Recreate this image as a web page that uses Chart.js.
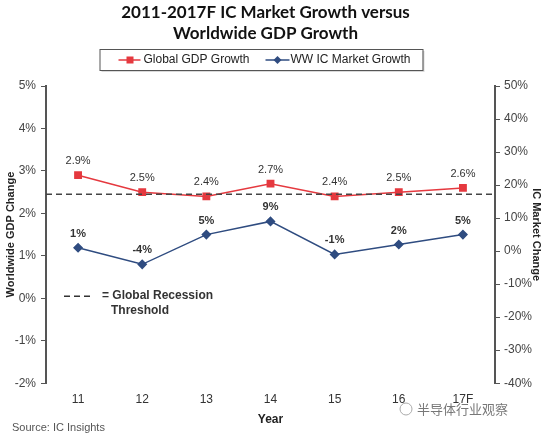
<!DOCTYPE html>
<html>
<head>
<meta charset="utf-8">
<script src="https://cdn.jsdelivr.net/npm/chart.js@4"></script>
<style>
  html, body { margin: 0; padding: 0; background: #fff; }
  #wrap { width: 547px; height: 436px; position: relative; }
</style>
</head>
<body>
<div id="wrap"><canvas id="icChart" width="547" height="436"></canvas></div>
<script>
const years = ['11', '12', '13', '14', '15', '16', '17F'];
const gdpGrowth = [2.9, 2.5, 2.4, 2.7, 2.4, 2.5, 2.6];
const icGrowth = [1, -4, 5, 9, -1, 2, 5];
const recessionThreshold = 2.45;

const RED = '#e5393f';
const BLUE = '#2f4c80';
const AXIS = '#555';

// title, labels above points, dashed threshold, legend box and notes
const extras = {
  id: 'extras',
  afterDatasetsDraw(chart) {
    const { ctx, chartArea, scales } = chart;
    ctx.save();
    const cx = chart.width / 2 - 12;

    // title
    ctx.textAlign = 'center';
    ctx.textBaseline = 'middle';
    ctx.fillStyle = '#111';
    ctx.font = 'bold 17px Lato, "Open Sans", sans-serif';
    ctx.fillText('2011-2017F IC Market Growth versus', cx + 4, 13);
    ctx.fillText('Worldwide GDP Growth', cx + 4, 34);

    // threshold line
    const ty = scales.y.getPixelForValue(recessionThreshold);
    ctx.strokeStyle = '#444';
    ctx.lineWidth = 1.5;
    ctx.setLineDash([6, 4]);
    ctx.beginPath();
    ctx.moveTo(chartArea.left, ty);
    ctx.lineTo(chartArea.right, ty);
    ctx.stroke();
    ctx.setLineDash([]);

    // value labels
    ctx.fillStyle = '#333';
    ctx.font = '11px "Liberation Sans", Arial, sans-serif';
    chart.getDatasetMeta(0).data.forEach((pt, i) => {
      ctx.fillText(gdpGrowth[i].toFixed(1) + '%', pt.x, pt.y - 14);
    });
    ctx.font = 'bold 11px "Liberation Sans", Arial, sans-serif';
    chart.getDatasetMeta(1).data.forEach((pt, i) => {
      ctx.fillText(icGrowth[i] + '%', pt.x, pt.y - 14);
    });

    // threshold note inside the plot
    const ny = scales.y.getPixelForValue(0.05);
    const nx = chartArea.left + 18;
    ctx.strokeStyle = '#333';
    ctx.setLineDash([6, 4]);
    ctx.beginPath();
    ctx.moveTo(nx, ny);
    ctx.lineTo(nx + 28, ny);
    ctx.stroke();
    ctx.setLineDash([]);
    ctx.textAlign = 'left';
    ctx.font = 'bold 12px "Liberation Sans", Arial, sans-serif';
    ctx.fillText('= Global Recession', nx + 38, ny);
    ctx.fillText('Threshold', nx + 47, ny + 15);

    // legend box
    const bx = cx - 162, by = 49, bw = 323, bh = 21;
    ctx.fillStyle = 'rgba(0,0,0,0.15)';
    ctx.fillRect(bx + 2, by + 2, bw, bh);
    ctx.fillStyle = '#fff';
    ctx.fillRect(bx, by, bw, bh);
    ctx.strokeStyle = AXIS;
    ctx.lineWidth = 1;
    ctx.strokeRect(bx + 0.5, by + 0.5, bw, bh);
    const ly = by + bh / 2 + 0.5;
    ctx.lineWidth = 1.5;
    ctx.strokeStyle = RED;
    ctx.beginPath(); ctx.moveTo(bx + 19, ly); ctx.lineTo(bx + 41, ly); ctx.stroke();
    ctx.fillStyle = RED;
    ctx.fillRect(bx + 27, ly - 3.5, 7, 7);
    ctx.strokeStyle = BLUE;
    ctx.beginPath(); ctx.moveTo(bx + 166, ly); ctx.lineTo(bx + 190, ly); ctx.stroke();
    ctx.fillStyle = BLUE;
    ctx.beginPath();
    ctx.moveTo(bx + 178, ly - 4); ctx.lineTo(bx + 182, ly);
    ctx.lineTo(bx + 178, ly + 4); ctx.lineTo(bx + 174, ly);
    ctx.closePath(); ctx.fill();
    ctx.fillStyle = '#222';
    ctx.font = '12px "Liberation Sans", Arial, sans-serif';
    ctx.fillText('Global GDP Growth', bx + 44, ly);
    ctx.fillText('WW IC Market Growth', bx + 191, ly);

    // source and watermark
    ctx.fillStyle = '#555';
    ctx.font = '11px "Liberation Sans", Arial, sans-serif';
    ctx.fillText('Source: IC Insights', 12, 428);
    ctx.strokeStyle = '#aaa';
    ctx.lineWidth = 1;
    ctx.beginPath(); ctx.arc(406, 409, 6, 0, Math.PI * 2); ctx.stroke();
    ctx.fillStyle = '#777';
    ctx.font = '13px "Noto Sans CJK SC", sans-serif';
    ctx.fillText('半导体行业观察', 417, 409);
    ctx.restore();
  }
};

new Chart(document.getElementById('icChart'), {
  type: 'line',
  data: {
    labels: years,
    datasets: [
      {
        label: 'Global GDP Growth',
        data: gdpGrowth,
        yAxisID: 'y',
        borderColor: RED,
        backgroundColor: RED,
        borderWidth: 1.5,
        pointStyle: 'rect',
        pointRadius: 4.5,
        tension: 0,
      },
      {
        label: 'WW IC Market Growth',
        data: icGrowth,
        yAxisID: 'y1',
        borderColor: BLUE,
        backgroundColor: BLUE,
        borderWidth: 1.5,
        pointStyle: 'rectRot',
        pointRadius: 4,
        tension: 0,
      },
    ],
  },
  options: {
    responsive: false,
    animation: false,
    layout: { padding: { left: 4, right: 4, top: 86, bottom: 9 } },
    plugins: {
      legend: { display: false },
      tooltip: { enabled: false },
      title: { display: false },
    },
    scales: {
      x: {
        offset: true,
        grid: { display: false, drawTicks: false },
        border: { display: false },
        ticks: { color: '#333', font: { size: 12, family: '"Liberation Sans", Arial' }, padding: 9 },
        title: {
          display: true, text: 'Year', color: '#222',
          font: { size: 12, weight: 'bold', family: '"Liberation Sans", Arial' },
          padding: { top: -3, bottom: 0 },
        },
      },
      y: {
        position: 'left',
        min: -2, max: 5,
        afterFit(scale) { scale.width = 42; },
        grid: { drawOnChartArea: false, tickLength: 5, color: AXIS },
        border: { color: AXIS, width: 2 },
        ticks: { stepSize: 1, color: '#444', padding: 5, font: { size: 12, family: '"Liberation Sans", Arial' }, callback: v => v + '%' },
        title: {
          display: true, text: 'Worldwide GDP Change', color: '#222',
          font: { size: 11, weight: 'bold', family: '"Liberation Sans", Arial' },
          padding: { top: 0, bottom: 0 },
        },
      },
      y1: {
        position: 'right',
        min: -40, max: 50,
        afterFit(scale) { scale.width = 48; },
        grid: { drawOnChartArea: false, tickLength: 5, color: AXIS },
        border: { color: AXIS, width: 2 },
        ticks: { stepSize: 10, color: '#444', padding: 4, font: { size: 12, family: '"Liberation Sans", Arial' }, callback: v => v + '%' },
        title: {
          display: true, text: 'IC Market Change', color: '#222',
          font: { size: 11, weight: 'bold', family: '"Liberation Sans", Arial' },
          padding: { top: 0, bottom: 2 },
        },
      },
    },
  },
  plugins: [extras],
});
</script>
</body>
</html>
